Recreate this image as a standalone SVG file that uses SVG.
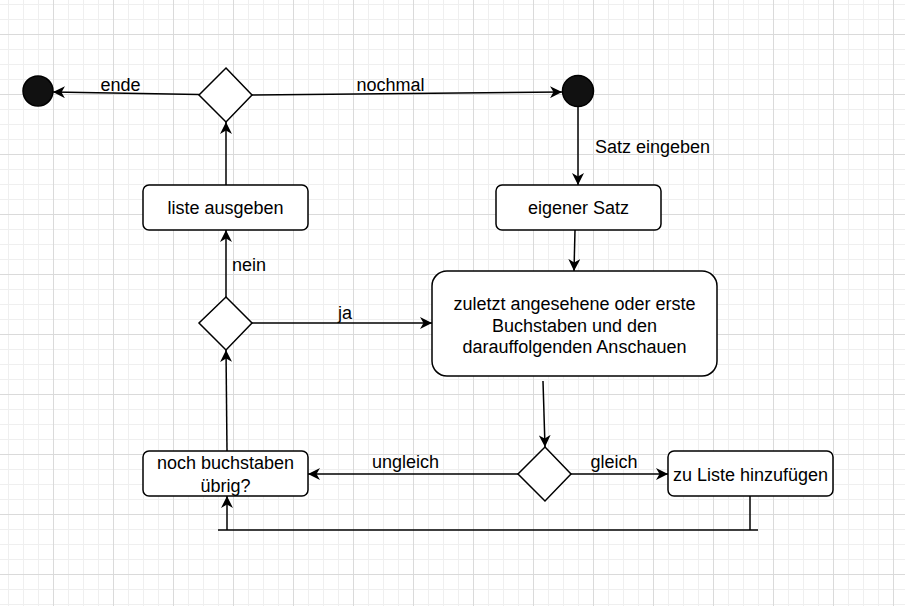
<svg xmlns="http://www.w3.org/2000/svg" width="905" height="606" viewBox="0 0 905 606">
<style>
.box{fill:#fff;stroke:#000;stroke-width:1.5}
.dot{fill:#111;stroke:#000;stroke-width:1.5}
.edge{fill:none;stroke:#000;stroke-width:1.5}
text{font-family:"Liberation Sans",Arial,sans-serif;font-size:18px;fill:#000}
.c{text-anchor:middle}
</style>
<defs>
<pattern id="grid" patternUnits="userSpaceOnUse" x="53" y="34" width="60" height="60">
<rect x="15" y="0" width="1" height="60" fill="#efefef"/>
<rect x="30" y="0" width="1" height="60" fill="#efefef"/>
<rect x="45" y="0" width="1" height="60" fill="#efefef"/>
<rect x="0" y="15" width="60" height="1" fill="#efefef"/>
<rect x="0" y="30" width="60" height="1" fill="#efefef"/>
<rect x="0" y="45" width="60" height="1" fill="#efefef"/>
<rect x="0" y="0" width="1" height="60" fill="#dadada"/>
<rect x="0" y="0" width="60" height="1" fill="#dadada"/>
</pattern>
<marker id="arr" markerUnits="userSpaceOnUse" viewBox="0 0 12 12" refX="12" refY="6" markerWidth="12" markerHeight="12" orient="auto">
<path d="M0,0 L12,6 L0,12 L3.5,6 z" fill="#000"/>
</marker>
</defs>
<rect width="905" height="606" fill="#fff"/>
<rect width="905" height="606" fill="url(#grid)"/>

<g id="connectors">
<path class="edge" d="M199,94.5 L53,92" marker-end="url(#arr)"/>
<path class="edge" d="M252,95 L562,92" marker-end="url(#arr)"/>
<path class="edge" d="M578,107 L578,185" marker-end="url(#arr)"/>
<path class="edge" d="M575,230 L574,271" marker-end="url(#arr)"/>
<path class="edge" d="M543,381 L545,447" marker-end="url(#arr)"/>
<path class="edge" d="M571,474 L668,474" marker-end="url(#arr)"/>
<path class="edge" d="M518,474 L308,474" marker-end="url(#arr)"/>
<path class="edge" d="M750,496 L750,530"/>
<path class="edge" d="M218,530 L758,530"/>
<path class="edge" d="M227,530 L227,496" marker-end="url(#arr)"/>
<path class="edge" d="M227,451 L226,350" marker-end="url(#arr)"/>
<path class="edge" d="M252,323 L432,323" marker-end="url(#arr)"/>
<path class="edge" d="M226,297 L226,230" marker-end="url(#arr)"/>
<path class="edge" d="M226,185 L226,122" marker-end="url(#arr)"/>
<text class="c" x="120.5" y="91">ende</text>
<text class="c" x="390.5" y="91">nochmal</text>
<text x="595" y="153">Satz eingeben</text>
<text x="232" y="271">nein</text>
<text class="c" x="345" y="319">ja</text>
<text class="c" x="405.5" y="468">ungleich</text>
<text class="c" x="614" y="468">gleich</text>
</g>

<g id="end"><circle class="dot" cx="38" cy="91" r="15"/></g>
<g id="start"><circle class="dot" cx="578" cy="91" r="15.5"/></g>
<g id="decision-top"><polygon class="box" points="226,68 252,95 226,122 199,95"/></g>
<g id="decision-mid"><polygon class="box" points="226,297 252,323 226,350 199,323"/></g>
<g id="decision-bottom"><polygon class="box" points="545,447 571,474 545,501 518,474"/></g>

<g id="liste-ausgeben">
<rect class="box" x="143" y="185" width="165" height="45" rx="6"/>
<text class="c" x="225.5" y="214">liste ausgeben</text>
</g>
<g id="eigener-satz">
<rect class="box" x="496" y="185" width="165" height="45" rx="6"/>
<text class="c" x="578.5" y="214">eigener Satz</text>
</g>
<g id="anschauen">
<rect class="box" x="432" y="271" width="285" height="105" rx="15"/>
<text class="c" x="574.5" y="310">zuletzt angesehene oder erste</text>
<text class="c" x="574.5" y="331.5">Buchstaben und den</text>
<text class="c" x="574.5" y="353">darauffolgenden Anschauen</text>
</g>
<g id="noch-buchstaben">
<rect class="box" x="143" y="451" width="165" height="45" rx="6"/>
<text class="c" x="225.5" y="469">noch buchstaben</text>
<text class="c" x="225.5" y="492">übrig?</text>
</g>
<g id="zu-liste">
<rect class="box" x="668" y="451" width="165" height="45" rx="6"/>
<text class="c" x="750.5" y="481">zu Liste hinzufügen</text>
</g>
</svg>
